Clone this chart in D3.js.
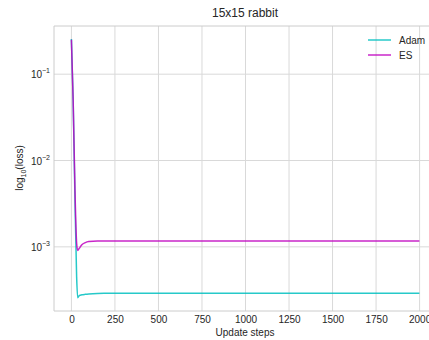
<!DOCTYPE html>
<html>
<head>
<meta charset="utf-8">
<script src="https://cdn.jsdelivr.net/npm/d3@7"></script>
<style>
  body { margin: 0; background: #fff; }
  svg { font-family: "Liberation Sans", Arial, sans-serif; }
</style>
</head>
<body>
<div id="chart"></div>
<script>
var W = 429, H = 340;
var margin = {top: 26, right: -8, bottom: 29, left: 54},
    width = W - margin.left - margin.right,
    height = H - margin.top - margin.bottom;

// data
var steps   = [0, 10, 20, 30, 36, 45, 60, 80, 100, 150, 200, 300, 500, 1000, 1500, 1999];
var adamLoss = [0.255, 0.05, 0.004, 0.00045, 0.000257, 0.000272, 0.000278, 0.000282, 0.000285, 0.000289, 0.00029, 0.000291, 0.000291, 0.000291, 0.000291, 0.000291];
var esLoss   = [0.25, 0.05, 0.005, 0.0011, 0.00091, 0.00096, 0.00106, 0.00112, 0.00115, 0.00117, 0.00117, 0.00117, 0.00117, 0.00117, 0.00117, 0.00117];
var seriesNames = ["Adam", "ES"];
var seriesColors = ["#00bfbf", "#bf00bf"];
var xTicks = [0, 250, 500, 750, 1000, 1250, 1500, 1750, 2000];
var yTicks = [1e-1, 1e-2, 1e-3];
var yExps = ["\u22121", "\u22122", "\u22123"];

var series = [
  {name: seriesNames[0], color: seriesColors[0], values: steps.map(function(s, i) { return {x: s, y: adamLoss[i]}; })},
  {name: seriesNames[1], color: seriesColors[1], values: steps.map(function(s, i) { return {x: s, y: esLoss[i]}; })}
];

var svg = d3.select("#chart").append("svg")
    .attr("width", W)
    .attr("height", H);

var g = svg.append("g")
    .attr("transform", "translate(" + margin.left + "," + margin.top + ")");

var x = d3.scaleLinear().domain([-100, 2100]).range([0, width]);
var y = d3.scaleLog().domain([Math.pow(10, -3.743), Math.pow(10, -0.442)]).range([height, 0]);

// grid
g.append("g").selectAll("line").data(xTicks).enter().append("line")
    .attr("x1", function(d) { return x(d); }).attr("x2", function(d) { return x(d); })
    .attr("y1", 0).attr("y2", height)
    .attr("stroke", "#d9d9d9").attr("stroke-width", 1);
g.append("g").selectAll("line").data(yTicks).enter().append("line")
    .attr("y1", function(d) { return y(d); }).attr("y2", function(d) { return y(d); })
    .attr("x1", 0).attr("x2", width)
    .attr("stroke", "#d9d9d9").attr("stroke-width", 1);

// spines
g.append("line").attr("x1", 0).attr("x2", 0).attr("y1", 0).attr("y2", height).attr("stroke", "#cccccc");
g.append("line").attr("x1", 0).attr("x2", width).attr("y1", height).attr("y2", height).attr("stroke", "#cccccc");
g.append("line").attr("x1", 0).attr("x2", width).attr("y1", 0).attr("y2", 0).attr("stroke", "#cccccc");

// x axis labels
var xAxis = d3.axisBottom(x).tickValues(xTicks).tickFormat(d3.format("d")).tickSize(0).tickPadding(5);
var xg = g.append("g").attr("transform", "translate(0," + height + ")").call(xAxis);
xg.select(".domain").remove();
xg.selectAll("text").attr("font-size", 10).attr("fill", "#262626")
    .attr("font-family", "Liberation Sans, Arial, sans-serif");

// y tick labels with superscripts
var yl = g.append("g").selectAll("text").data(yTicks).enter().append("text")
    .attr("x", -4)
    .attr("y", function(d) { return y(d) + 4; })
    .attr("text-anchor", "end")
    .attr("font-size", 10)
    .attr("fill", "#262626");
yl.append("tspan").text("10");
yl.append("tspan").attr("dy", -5).attr("font-size", 7).text(function(d, i) { return yExps[i]; });

// lines
var line = d3.line()
    .x(function(d) { return x(d.x); })
    .y(function(d) { return y(d.y); })
    .curve(d3.curveMonotoneX);

g.selectAll(".line").data(series).enter().append("path")
    .attr("class", "line")
    .attr("fill", "none")
    .attr("stroke", function(d) { return d.color; })
    .attr("stroke-width", 1.5)
    .attr("stroke-opacity", 0.85)
    .attr("d", function(d) { return line(d.values); });

// title and axis titles
svg.append("text").attr("x", 245).attr("y", 17).attr("text-anchor", "middle")
    .attr("font-size", 12).attr("fill", "#262626").text("15x15 rabbit");
svg.append("text").attr("x", 245).attr("y", 336).attr("text-anchor", "middle")
    .attr("font-size", 10).attr("fill", "#262626").text("Update steps");
var ylab = svg.append("text").attr("transform", "translate(23," + 168 + ") rotate(-90)")
    .attr("text-anchor", "middle").attr("font-size", 10).attr("fill", "#262626");
ylab.append("tspan").text("log");
ylab.append("tspan").attr("font-size", 7).attr("dy", 3).text("10");
ylab.append("tspan").attr("dy", -3).text("(loss)");

// legend
var leg = svg.append("g").selectAll("g").data(series).enter().append("g")
    .attr("transform", function(d, i) { return "translate(368," + (40 + i * 15) + ")"; });
leg.append("line").attr("x1", 0).attr("x2", 23).attr("y1", 0).attr("y2", 0)
    .attr("stroke", function(d) { return d.color; }).attr("stroke-width", 1.5).attr("stroke-opacity", 0.85);
leg.append("text").attr("x", 31).attr("y", 4).attr("font-size", 10).attr("fill", "#262626")
    .text(function(d) { return d.name; });
</script>
</body>
</html>
